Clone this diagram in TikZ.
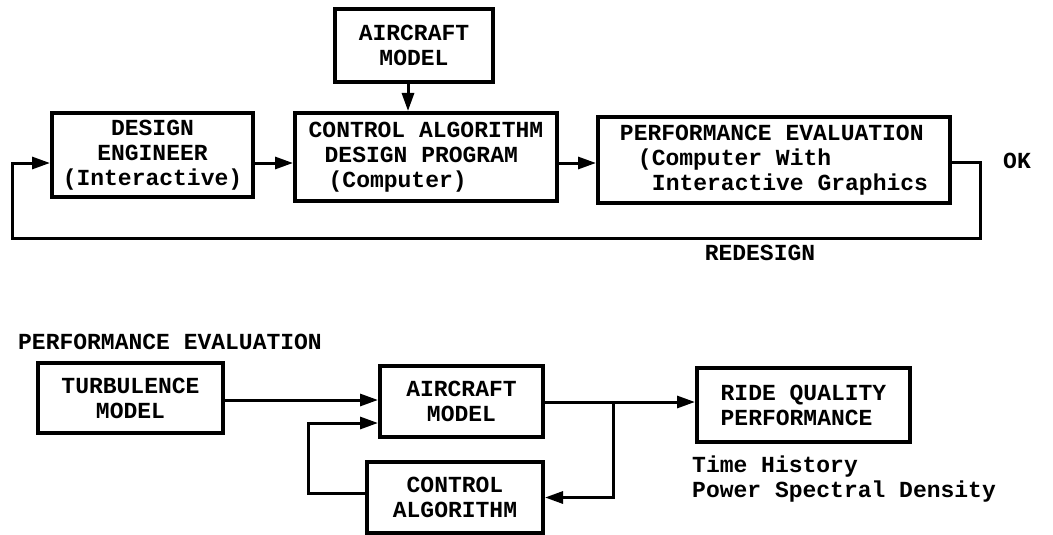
\documentclass[tikz,border=0pt]{standalone}
\usepackage{fontspec}
\setmainfont{Liberation Mono}
\usetikzlibrary{arrows.meta,calc}
\begin{document}
\begin{tikzpicture}[x=1pt,y=-1pt,
  txt/.style={font=\bfseries\fontsize{23}{25}\selectfont},
  box/.style={draw,line width=4pt,inner sep=0pt,align=center,txt},
  lbl/.style={inner sep=0pt,txt},
  conn/.style={line width=3pt},
  arr/.style={conn,-{Triangle[length=18pt,width=12pt]}}]
\useasboundingbox (0,0) rectangle (1053,535);
% top section
\node[box,minimum width=158pt,minimum height=73pt] (am1) at (414,45.5) {AIRCRAFT\\MODEL};
\node[box,minimum width=201pt,minimum height=84pt] (de) at (152.5,155) {DESIGN\\ENGINEER\\(Interactive)};
\node[box,minimum width=262pt,minimum height=88pt,align=left] (ca) at (426,157) {CONTROL ALGORITHM\\\hspace{16pt}DESIGN PROGRAM\\\hspace{20pt}(Computer)};
\node[box,minimum width=352pt,minimum height=86pt,align=left] (pe) at (774,160) {PERFORMANCE EVALUATION\\\hspace{18pt}(Computer With\\\hspace{32pt}Interactive Graphics};
\node[lbl] (ok) at (1017,161) {OK};
\node[lbl] (redesign) at (760,253) {REDESIGN};
\coordinate (fbR) at (980,238);
\coordinate (fbL) at (12,238);
\draw[arr] ([xshift=-6pt]am1.south) -- ([xshift=-6pt]am1.south |- ca.north);
\draw[arr] ([yshift=-8pt]de.east) -- ([yshift=-8pt]de.east -| ca.west);
\draw[arr] ([yshift=-6pt]ca.east) -- ([yshift=-6pt]ca.east -| pe.west);
\draw[arr] ([yshift=-2pt]pe.east) -| (fbR) -- (fbL) |- ([yshift=-8pt]de.west);
% bottom section
\node[lbl,anchor=west] (pehead) at (18,342) {PERFORMANCE EVALUATION};
\node[box,minimum width=185pt,minimum height=70pt] (tm) at (130.5,398) {TURBULENCE\\MODEL};
\node[box,minimum width=163pt,minimum height=71pt] (am2) at (461.5,401.5) {AIRCRAFT\\MODEL};
\node[box,minimum width=176pt,minimum height=71pt] (cal) at (455,497.5) {CONTROL\\ALGORITHM};
\node[box,minimum width=213pt,minimum height=74pt,align=left] (rq) at (803.5,405) {RIDE QUALITY\\PERFORMANCE};
\node[lbl,anchor=west,align=left] (psd) at (692,479.5) {Time History\\Power Spectral Density};
\coordinate (b1) at (308,493);
\coordinate (br) at (613,402);
\draw[arr] ([yshift=-2pt]tm.east) -- ([yshift=-2pt]tm.east -| am2.west);
\draw[arr] (cal.west |- b1) -- (b1) |- ([yshift=-21.5pt]am2.west);
\draw[arr] (am2.east |- br) -- (br -| rq.west);
\draw[arr] (br) |- (cal.east);
\end{tikzpicture}
\end{document}
